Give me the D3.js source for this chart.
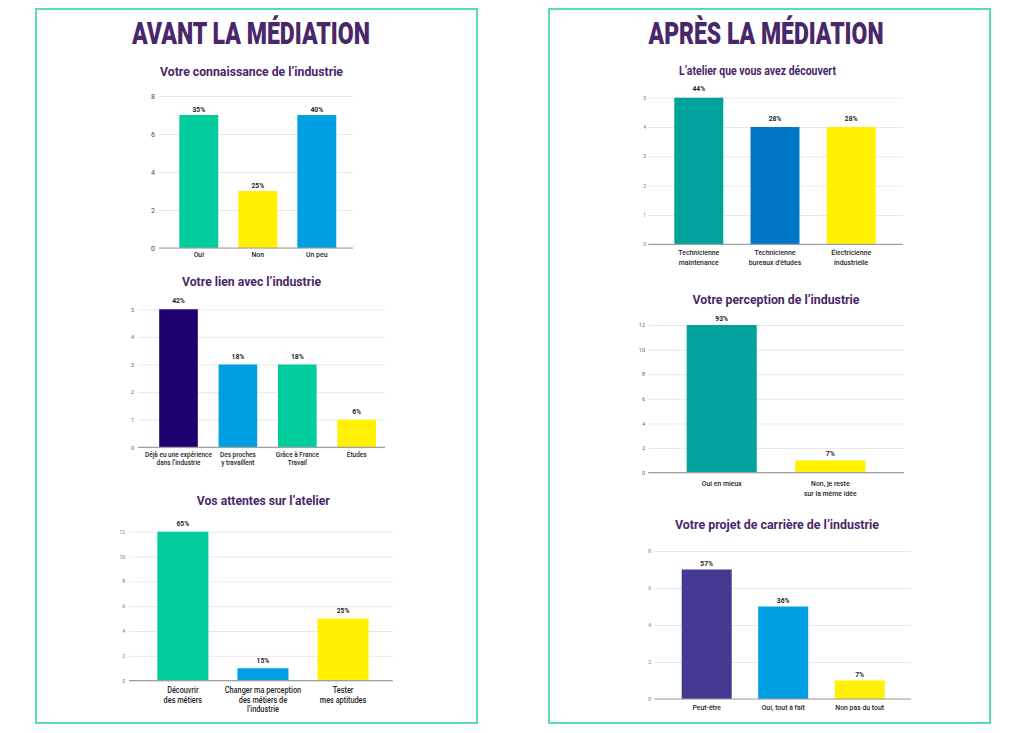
<!DOCTYPE html>
<html><head><meta charset="utf-8">
<script src="https://cdn.jsdelivr.net/npm/d3@7"></script>
<style>body{margin:0;background:#fff}svg{display:block}</style>
</head><body>
<svg id="c" width="1024" height="733"></svg>
<script>
// ---------- DATA ----------
const panelTitles = ["AVANT LA MÉDIATION", "APRÈS LA MÉDIATION"];

const connaissanceTitle = "Votre connaissance de l’industrie";
const connaissanceCats = [["Oui"], ["Non"], ["Un peu"]];
const connaissanceVals = [7, 3, 7];
const connaissancePct = ["35%", "25%", "40%"];
const connaissanceTicks = [0, 2, 4, 6, 8];

const lienTitle = "Votre lien avec l’industrie";
const lienCats = [["Déjà eu une expérience", "dans l’industrie"], ["Des proches", "y travaillent"], ["Grâce à France", "Travail"], ["Études"]];
const lienVals = [5, 3, 3, 1];
const lienPct = ["42%", "18%", "18%", "6%"];
const lienTicks = [0, 1, 2, 3, 4, 5];

const attentesTitle = "Vos attentes sur l’atelier";
const attentesCats = [["Découvrir", "des métiers"], ["Changer ma perception", "des métiers de", "l’industrie"], ["Tester", "mes aptitudes"]];
const attentesVals = [12, 1, 5];
const attentesPct = ["65%", "15%", "25%"];
const attentesTicks = [0, 2, 4, 6, 8, 10, 12];

const atelierTitle = "L’atelier que vous avez découvert";
const atelierCats = [["Technicienne", "maintenance"], ["Technicienne", "bureaux d’études"], ["Électricienne", "industrielle"]];
const atelierVals = [5, 4, 4];
const atelierPct = ["44%", "28%", "28%"];
const atelierTicks = [0, 1, 2, 3, 4, 5];

const perceptionTitle = "Votre perception de l’industrie";
const perceptionCats = [["Oui en mieux"], ["Non, je reste", "sur la même idée"]];
const perceptionVals = [12, 1];
const perceptionPct = ["93%", "7%"];
const perceptionTicks = [0, 2, 4, 6, 8, 10, 12];

const projetTitle = "Votre projet de carrière de l’industrie";
const projetCats = [["Peut-être"], ["Oui, tout à fait"], ["Non pas du tout"]];
const projetVals = [7, 5, 1];
const projetPct = ["57%", "36%", "7%"];
const projetTicks = [0, 2, 4, 6, 8];

// ---------- STYLE / LAYOUT ----------
const C = {
  teal: "#00cc9c", yellow: "#fff100", blue: "#009ee2", navy: "#1e0070",
  teal2: "#00a39b", blue2: "#0076c6", purple: "#433a92",
  title: "#48276a", text: "#1f1f1f", grid: "#e9e9e9", axis: "#a0a0a0", border: "#5ed8b6"
};

const charts = [
  {title: connaissanceTitle, cats: connaissanceCats, vals: connaissanceVals, pct: connaissancePct, ticks: connaissanceTicks,
   colors: [C.teal, C.yellow, C.blue], titleX: 251.5, titleY: 75.5, titleW: 183,
   gx: [159, 353], yPx: [248, 96], band: [169.3, 346.3], pi: 0.34, tickFs: 7, tickCol: "#444", tickX: 155,
   labFs: 8, labY: 257.3, labDy: 9, pctOff: 3.5},
  {title: lienTitle, cats: lienCats, vals: lienVals, pct: lienPct, ticks: lienTicks,
   colors: [C.navy, C.blue, C.teal, C.yellow], titleX: 251.5, titleY: 285.5, titleW: 139,
   gx: [138, 385], yPx: [447.3, 309.3], band: [148.8, 386.4], pi: 0.35, tickFs: 5.5, tickCol: "#666", tickX: 134,
   labFs: 7.5, labY: 457, labDy: 8.4, pctOff: 6},
  {title: attentesTitle, cats: attentesCats, vals: attentesVals, pct: attentesPct, ticks: attentesTicks,
   colors: [C.teal, C.blue, C.yellow], titleX: 263.3, titleY: 504.5, titleW: 133,
   gx: [129, 392.7], yPx: [680.7, 531.7], band: [142.8, 383.1], pi: 0.363, tickFs: 5, tickCol: "#777", tickX: 125,
   labFs: 8.5, labY: 693, labDy: 9.7, pctOff: 5.5},
  {title: atelierTitle, cats: atelierCats, vals: atelierVals, pct: atelierPct, ticks: atelierTicks,
   colors: [C.teal2, C.blue2, C.yellow], titleX: 757.5, titleY: 75, titleW: 157,
   gx: [648.3, 902.7], yPx: [244.3, 97.7], band: [660.7, 889.3], pi: 0.357, tickFs: 5, tickCol: "#777", tickX: 646,
   labFs: 8, labY: 254.5, labDy: 10, pctOff: 6.5},
  {title: perceptionTitle, cats: perceptionCats, vals: perceptionVals, pct: perceptionPct, ticks: perceptionTicks,
   colors: [C.teal2, C.yellow], titleX: 776, titleY: 303.5, titleW: 167,
   gx: [648.3, 904], yPx: [472.7, 325], band: [667.4, 884.6], pi: 0.355, tickFs: 5.5, tickCol: "#666", tickX: 645,
   labFs: 8, labY: 485.5, labDy: 10, pctOff: 4},
  {title: projetTitle, cats: projetCats, vals: projetVals, pct: projetPct, ticks: projetTicks,
   colors: [C.purple, C.blue, C.yellow], titleX: 777, titleY: 528.5, titleW: 204,
   gx: [654.3, 911], yPx: [699, 551], band: [668.45, 897.95], pi: 0.346, tickFs: 5, tickCol: "#777", tickX: 651,
   labFs: 8, labY: 709.5, labDy: 10, pctOff: 4}
];

const FONT = "Roboto, 'Noto Sans', 'DejaVu Sans', sans-serif";
const CONDENSE = 0.86;
const svg = d3.select("#c");

function condense(sel, f) {
  sel.each(function () {
    const w = this.getComputedTextLength();
    if (w > 0) d3.select(this).attr("textLength", w * f).attr("lengthAdjust", "spacingAndGlyphs");
  });
}

// panels
const panels = [{x: 36, y: 9, w: 441, h: 714, tx: 251, tw: 238}, {x: 549, y: 9, w: 441, h: 714, tx: 766, tw: 235}];
panels.forEach((p, i) => {
  svg.append("rect").attr("x", p.x).attr("y", p.y).attr("width", p.w).attr("height", p.h)
    .attr("fill", "none").attr("stroke", C.border).attr("stroke-width", 2);
  svg.append("text").attr("x", p.tx).attr("y", 43.5).attr("text-anchor", "middle")
    .attr("font-family", FONT).attr("font-weight", 900).attr("font-size", 31)
    .attr("fill", C.title).attr("textLength", p.tw).attr("lengthAdjust", "spacingAndGlyphs")
    .text(panelTitles[i]);
});

charts.forEach(ch => {
  const g = svg.append("g");
  const maxT = ch.ticks[ch.ticks.length - 1];
  const y = d3.scaleLinear().domain([0, maxT]).range(ch.yPx);
  const x = d3.scaleBand().domain(d3.range(ch.vals.length)).range(ch.band)
    .paddingInner(ch.pi).paddingOuter(ch.pi / 2);

  // subtitle
  g.append("text").attr("x", ch.titleX).attr("y", ch.titleY).attr("text-anchor", "middle")
    .attr("font-family", FONT).attr("font-weight", 700).attr("font-size", 12.5)
    .attr("fill", C.title).attr("textLength", ch.titleW).attr("lengthAdjust", "spacingAndGlyphs")
    .text(ch.title);

  // grid lines + tick labels
  const yAxis = d3.axisLeft(y).tickValues(ch.ticks).tickFormat(d3.format("d"))
    .tickSize(-(ch.gx[1] - ch.gx[0])).tickPadding(4);
  const ag = g.append("g").attr("transform", `translate(${ch.gx[0]},0)`).call(yAxis);
  ag.select(".domain").remove();
  ag.selectAll(".tick line").attr("stroke", C.grid).attr("stroke-width", 1);
  ag.selectAll(".tick text").attr("font-family", FONT).attr("font-size", ch.tickFs)
    .attr("fill", ch.tickCol).attr("x", ch.tickX - ch.gx[0]);

  // bars
  g.selectAll("rect.bar").data(ch.vals).enter().append("rect").attr("class", "bar")
    .attr("x", (d, i) => x(i)).attr("width", x.bandwidth())
    .attr("y", d => y(d)).attr("height", d => y(0) - y(d))
    .attr("fill", (d, i) => ch.colors[i]);

  // baseline
  g.append("line").attr("x1", ch.gx[0]).attr("x2", ch.gx[1]).attr("y1", y(0)).attr("y2", y(0))
    .attr("stroke", C.axis).attr("stroke-width", 1.2);

  // percent labels
  const pl = g.selectAll("text.pct").data(ch.vals).enter().append("text").attr("class", "pct")
    .attr("x", (d, i) => x(i) + x.bandwidth() / 2).attr("y", d => y(d) - ch.pctOff)
    .attr("text-anchor", "middle").attr("font-family", FONT).attr("font-weight", 700)
    .attr("font-size", 7.5).attr("fill", C.text)
    .text((d, i) => ch.pct[i]);
  condense(pl, 0.9);

  // category labels (one text per line)
  ch.cats.forEach((lines, i) => {
    lines.forEach((ln, k) => {
      const t = g.append("text").attr("text-anchor", "middle").attr("font-family", FONT)
        .attr("font-weight", 500).attr("font-size", ch.labFs).attr("fill", C.text)
        .attr("x", x(i) + x.bandwidth() / 2).attr("y", ch.labY + k * ch.labDy).text(ln);
      condense(t, CONDENSE);
    });
  });
});
</script>
</body></html>
